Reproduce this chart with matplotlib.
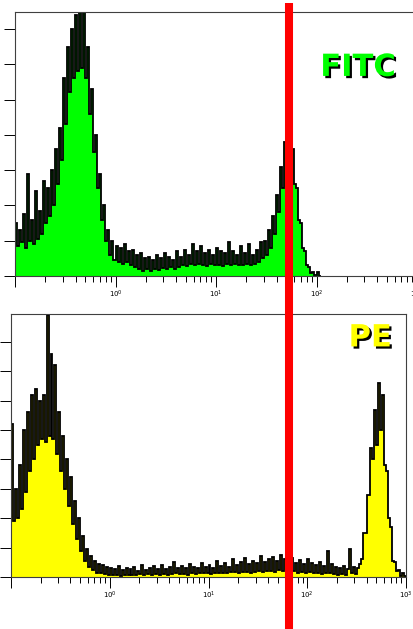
import numpy as np
import matplotlib
matplotlib.use("Agg")
import matplotlib.pyplot as plt
from matplotlib import patheffects as pe
from matplotlib.lines import Line2D
from matplotlib.ticker import LogLocator, NullFormatter, FixedLocator

# ---- data: counts per channel (log bins, 50 per decade starting at 10^-1) ----
bin_step = 0.02
log_start = -1.0

fitc_counts = [
    150, 85, 130, 95, 175, 80, 290, 100, 160, 90,
    240, 105, 185, 120, 270, 150, 250, 170, 300, 200,
    360, 260, 420, 330, 560, 430, 650, 520, 700, 560,
    740, 580, 760, 590, 760, 560, 650, 460, 530, 350,
    400, 250, 290, 160, 200, 100, 130, 60, 100, 45,
    85, 40, 80, 35, 90, 40, 70, 30, 75, 25,
    60, 20, 65, 15, 50, 20, 55, 15, 45, 20,
    60, 18, 50, 22, 65, 20, 55, 25, 45, 20,
    70, 25, 55, 30, 75, 28, 60, 35, 90, 30,
    70, 35, 85, 30, 65, 28, 75, 35, 60, 30,
    80, 32, 70, 28, 65, 35, 95, 30, 70, 35,
    60, 30, 85, 32, 65, 35, 90, 30, 60, 35,
    75, 40, 95, 50, 100, 60, 130, 80, 170, 120,
    230, 180, 310, 250, 380, 320, 400, 330, 360, 260,
    250, 160, 150, 80, 70, 30, 25, 8, 12, 3,
    10, 0,
]

pe_counts = [
    520, 190, 300, 200, 380, 230, 500, 290, 560, 360,
    620, 400, 640, 450, 600, 470, 620, 460, 890, 480,
    760, 470, 720, 420, 560, 360, 480, 300, 400, 240,
    340, 180, 260, 130, 200, 90, 140, 55, 95, 35,
    70, 25, 55, 15, 45, 12, 40, 10, 35, 8,
    30, 6, 28, 8, 38, 5, 24, 7, 32, 6,
    26, 8, 34, 6, 22, 9, 42, 7, 25, 10,
    30, 8, 36, 9, 26, 7, 40, 10, 28, 8,
    34, 10, 50, 12, 32, 9, 38, 11, 30, 8,
    44, 12, 34, 10, 32, 14, 48, 12, 34, 15,
    40, 11, 32, 14, 55, 15, 38, 12, 46, 14,
    34, 16, 60, 18, 42, 14, 50, 16, 66, 18,
    44, 14, 55, 18, 48, 20, 72, 18, 52, 20,
    62, 22, 68, 18, 55, 24, 76, 20, 60, 22,
    54, 16, 66, 20, 48, 15, 58, 18, 44, 14,
    62, 16, 46, 14, 40, 12, 50, 10, 36, 12,
    90, 14, 44, 10, 34, 8, 32, 10, 38, 8,
    28, 95, 12, 34, 10, 30, 45, 60, 150, 150,
    280, 280, 440, 400, 570, 450, 660, 500, 620, 380,
    360, 200, 170, 55, 50, 20, 25, 5, 12, 2,
]

x_major = [0.1, 1, 10, 100, 1000]
x_tick_labels = ["", r"$10^0$", r"$10^1$", r"$10^2$", r"$10^3$"]
fitc_yticks = [0, 100, 200, 300, 400, 500, 600, 700]
pe_yticks = [0, 100, 200, 300, 400, 500, 600, 700, 800]
gate_value = 53.2  # position of the red marker (top-panel data units)

FITC_GREEN = "#00FF00"
PE_YELLOW = "#FFFF00"

W, H = 413, 629
fig = plt.figure(figsize=(W / 100, H / 100), dpi=100)
fig.patch.set_facecolor("white")

def px_axes(l, t, r, b):
    return fig.add_axes([l / W, 1 - b / H, (r - l) / W, (b - t) / H])

ax1 = px_axes(15, 12, 417, 276)
ax2 = px_axes(11, 314, 406, 577)

def draw(ax, counts, color, ylim, yticks):
    counts = np.asarray(counts, dtype=float)
    edges = 10 ** (log_start + bin_step * np.arange(len(counts) + 1))
    ax.stairs(counts, edges, fill=True, color=color, linewidth=0)
    ax.stairs(counts, edges, color="black", linewidth=1.3)
    ax.set_xscale("log")
    ax.set_xlim(0.1, 1000)
    ax.set_ylim(*ylim)
    ax.xaxis.set_major_locator(FixedLocator(x_major))
    ax.set_xticklabels(x_tick_labels, fontsize=5)
    ax.xaxis.set_minor_locator(LogLocator(base=10, subs=np.arange(2, 10), numticks=20))
    ax.xaxis.set_minor_formatter(NullFormatter())
    ax.set_yticks(yticks)
    ax.set_yticklabels([])
    ax.tick_params(axis="x", which="major", direction="out", length=8, width=0.7, pad=1.5, colors="black")
    ax.tick_params(axis="x", which="minor", direction="out", length=4, width=0.7)
    ax.tick_params(axis="y", which="major", direction="out", length=8, width=0.7)
    for s in ax.spines.values():
        s.set_color("#404040")
        s.set_linewidth(0.8)

draw(ax1, fitc_counts, FITC_GREEN, (0, 748), fitc_yticks)
draw(ax2, pe_counts, PE_YELLOW, (0, 895), pe_yticks)

shadow = [pe.withSimplePatchShadow(offset=(1.6, -1.6), shadow_rgbFace="black", alpha=1.0)]
ax1.text(0.853, 0.79, "FITC", transform=ax1.transAxes, ha="center", va="center",
         fontsize=22, fontweight="bold", color=FITC_GREEN, family="DejaVu Sans",
         path_effects=shadow)
ax2.text(0.909, 0.909, "PE", transform=ax2.transAxes, ha="center", va="center",
         fontsize=22, fontweight="bold", color=PE_YELLOW, family="DejaVu Sans",
         path_effects=shadow)

# red gate line spanning the whole figure height
gx_disp = ax1.transData.transform((gate_value, 1))[0]
gx_fig = fig.transFigure.inverted().transform((gx_disp, 0))[0]
fig.add_artist(Line2D([gx_fig, gx_fig], [0.0, 1 - 3 / H], transform=fig.transFigure,
                      color="#FF0000", linewidth=5.8, solid_capstyle="butt"))

fig.savefig("out.png", dpi=100)
